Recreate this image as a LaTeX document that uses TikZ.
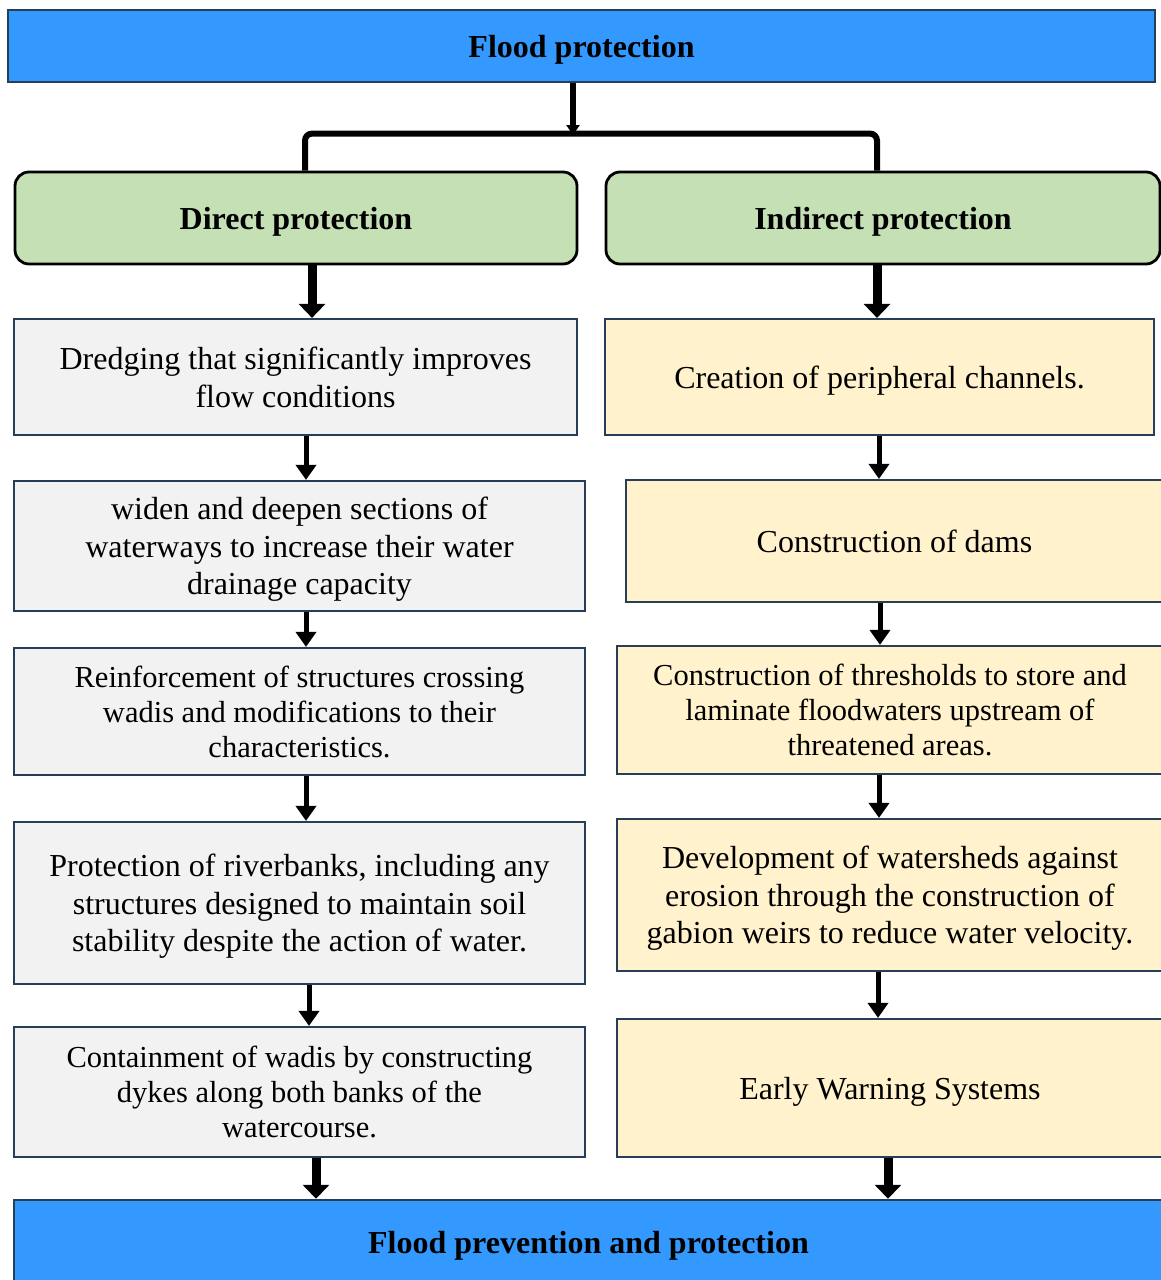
\documentclass[tikz,border=0pt]{standalone}
\usepackage{fontspec}
\setmainfont{Liberation Serif}
\usepackage{tikz}
\usetikzlibrary{arrows.meta}
\definecolor{bandblue}{RGB}{51,153,255}
\definecolor{headgreen}{RGB}{197,224,180}
\definecolor{directgrey}{RGB}{242,242,242}
\definecolor{indirectyellow}{RGB}{255,242,204}
\definecolor{edgeblue}{RGB}{38,62,88}
\tikzset{
  band node/.style={rectangle,draw=edgeblue,line width=2.5pt,fill=bandblue,inner sep=0pt,text depth=0pt,font=\fontsize{32}{36}\selectfont\bfseries},
  head node/.style={rectangle,rounded corners=14pt,draw=black,line width=2.8pt,fill=headgreen,inner sep=0pt,text depth=0pt,font=\fontsize{32}{36}\selectfont\bfseries},
  direct node/.style={rectangle,draw=edgeblue,line width=2.2pt,fill=directgrey,inner sep=0pt,text depth=0pt,align=center,font=\fontsize{32}{37.5}\selectfont},
  indirect node/.style={direct node,fill=indirectyellow},
  tight/.style={font=\fontsize{30.5}{35}\selectfont},
  step arrow/.style={-{Triangle[width=20pt,length=15pt]},line width=5pt},
  head arrow/.style={-{Triangle[width=26pt,length=14pt]},line width=9pt},
  bracket/.style={line width=6pt,rounded corners=7pt}
}
\begin{document}
\begin{tikzpicture}[x=1pt,y=-1pt]
  \useasboundingbox (0,0) rectangle (1161,1280);
  \node [band node,minimum width=1147,minimum height=72] (flood) at (581.5,46) {Flood protection};
  \node [head node,minimum width=562,minimum height=92] (direct) at (296,218) {Direct protection};
  \node [head node,minimum width=554,minimum height=92] (indirect) at (883,218) {Indirect protection};

  \node [direct node,minimum width=563,minimum height=116] (d1) at (295.5,377) {Dredging that significantly improves\\flow conditions};
  \node [direct node,minimum width=571,minimum height=130] (d2) at (299.5,546) {widen and deepen sections of\\waterways to increase their water\\drainage capacity};
  \node [direct node,tight,minimum width=571,minimum height=127] (d3) at (299.5,711.5) {Reinforcement of structures crossing\\wadis and modifications to their\\characteristics.};
  \node [direct node,minimum width=571,minimum height=162] (d4) at (299.5,903) {Protection of riverbanks, including any\\structures designed to maintain soil\\stability despite the action of water.};
  \node [direct node,tight,minimum width=571,minimum height=130] (d5) at (299.5,1092) {Containment of wadis by constructing\\dykes along both banks of the\\watercourse.};

  \node [indirect node,minimum width=549,minimum height=116] (i1) at (879.5,377) {Creation of peripheral channels.};
  \node [indirect node,minimum width=537,minimum height=122] (i2) at (894.5,541) {Construction of dams};
  \node [indirect node,tight,minimum width=546,minimum height=128] (i3) at (890,710) {Construction of thresholds to store and\\laminate floodwaters upstream of\\threatened areas.};
  \node [indirect node,minimum width=546,minimum height=152] (i4) at (890,895) {Development of watersheds against\\erosion through the construction of\\gabion weirs to reduce water velocity.};
  \node [indirect node,minimum width=546,minimum height=138] (i5) at (890,1088) {Early Warning Systems};

  \node [band node,minimum width=1149,minimum height=85] (prevention) at (588.5,1242.5) {Flood prevention and protection};

  \coordinate (split) at (573,135);
  \draw [-{Triangle[width=13pt,length=10pt]},line width=6pt] (flood.south -| split) -- (split);
  \draw [bracket] ([xshift=9pt]direct.north) -- ++(0,-37) -| ([xshift=-6pt]indirect.north);

  \draw [head arrow] ([xshift=16pt]direct.south) -- ([xshift=16.5pt]d1.north);
  \draw [head arrow] ([xshift=-6pt]indirect.south) -- ([xshift=-2.5pt]i1.north);

  \draw [step arrow] ([xshift=10.5pt]d1.south) -- ([xshift=6.5pt]d2.north);
  \draw [step arrow] ([xshift=6.5pt]d2.south) -- ([xshift=6.5pt]d3.north);
  \draw [step arrow] ([xshift=6.5pt]d3.south) -- ([xshift=6.5pt]d4.north);
  \draw [step arrow] ([xshift=9.5pt]d4.south) -- ([xshift=9.5pt]d5.north);
  \draw [head arrow] ([xshift=16.5pt]d5.south) -- ([xshift=-272.5pt]prevention.north);

  \draw [step arrow] ([xshift=-0.5pt]i1.south) -- ([xshift=-15.5pt]i2.north);
  \draw [step arrow] ([xshift=-14.5pt]i2.south) -- ([xshift=-10pt]i3.north);
  \draw [step arrow] ([xshift=-11pt]i3.south) -- ([xshift=-11pt]i4.north);
  \draw [step arrow] ([xshift=-12pt]i4.south) -- ([xshift=-12pt]i5.north);
  \draw [head arrow] ([xshift=-2pt]i5.south) -- ([xshift=299.5pt]prevention.north);
\end{tikzpicture}
\end{document}
